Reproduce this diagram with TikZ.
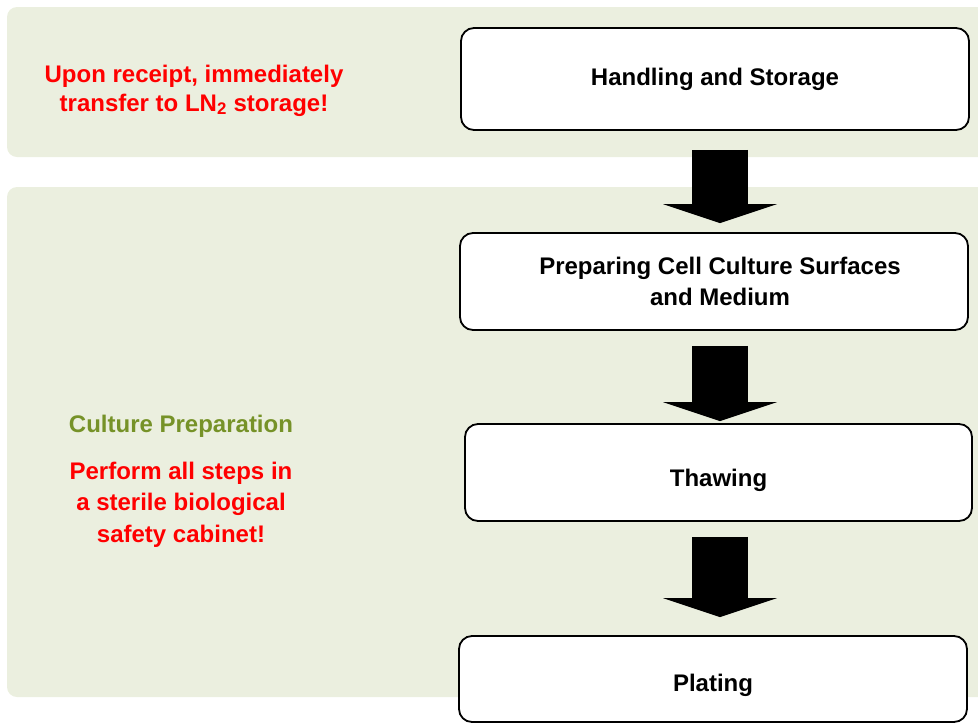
\documentclass[tikz,border=0pt]{standalone}
\usepackage{fontspec}
\setmainfont{Liberation Sans}
\usetikzlibrary{arrows.meta}
\definecolor{panelbg}{RGB}{235,239,223}
\definecolor{warnred}{RGB}{255,0,0}
\definecolor{olive}{RGB}{118,146,40}
\newcommand{\lowertext}[2]{\raisebox{-#1}[\height][\depth]{#2}}
\tikzset{
  panel/.style={fill=panelbg, draw=none, rounded corners=10pt},
  stepbox/.style={draw=black, line width=1.8pt, fill=white, rounded corners=13pt,
    font=\bfseries\fontsize{24}{31}\selectfont, align=center, inner sep=0pt},
  note/.style={font=\bfseries\fontsize{24}{29}\selectfont, align=center, text=warnred},
  blockarrow/.style={line width=56pt, black,
    -{Triangle[width=114pt,length=19pt,line width=0pt]}},
}
\begin{document}
\begin{tikzpicture}[x=1pt,y=-1pt]
\useasboundingbox (0,0) rectangle (978,724);
% panels
\fill[panel] (7,7) rectangle (1000,157);
\fill[panel] (7,187) rectangle (1000,697);
% step boxes
\node[stepbox, minimum width=508pt, minimum height=102pt] (b1) at (715,79) {Handling and Storage};
\node[stepbox, minimum width=508pt, minimum height=97pt] (b2) at (714,281.5) {\hspace*{12pt}Preparing Cell Culture Surfaces\\\hspace*{12pt}and Medium};
\node[stepbox, minimum width=507pt, minimum height=97pt] (b3) at (718.5,472.5) {\lowertext{8pt}{Thawing}};
\node[stepbox, minimum width=508pt, minimum height=86pt] (b4) at (713,679) {\lowertext{6pt}{Plating}};
% arrows
\draw[blockarrow, shorten <=19pt, shorten >=9pt] ([xshift=5pt]b1.south) -- ([xshift=6pt]b2.north);
\draw[blockarrow, shorten <=15pt, shorten >=2pt] ([xshift=6pt]b2.south) -- ([xshift=1.5pt]b3.north);
\draw[blockarrow, shorten <=15pt, shorten >=18pt] ([xshift=1.5pt]b3.south) -- ([xshift=7pt]b4.north);
% notes
\node[note] (n1) at (194,90.5) {Upon receipt, immediately\\transfer to LN\textsubscript{2} storage!};
\node[font=\bfseries\fontsize{24}{29}\selectfont, text=olive] (n2) at (181,426.5) {Culture Preparation};
\node[note, font=\bfseries\fontsize{24}{31.5}\selectfont] (n3) at (181,504.5) {Perform all steps in\\a sterile biological\\safety cabinet!};
\end{tikzpicture}
\end{document}
